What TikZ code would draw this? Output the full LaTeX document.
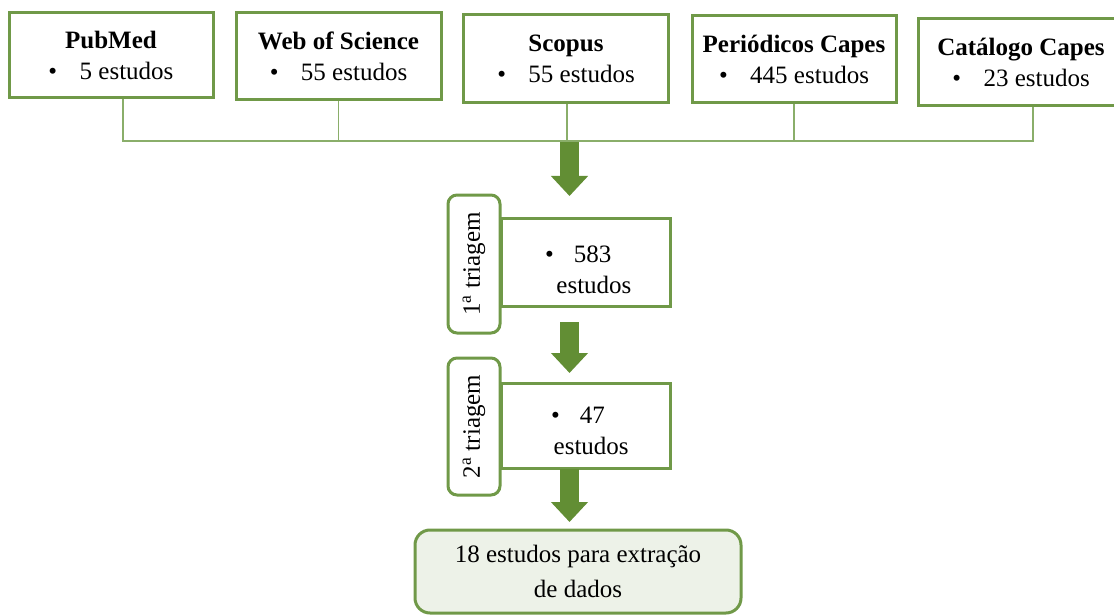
\documentclass[tikz,border=0pt]{standalone}
\usepackage{fontspec}
\setmainfont{Liberation Serif}
\usepackage{xcolor}
\usepackage{tikz}
\usetikzlibrary{arrows.meta,positioning}
\definecolor{boxgreen}{RGB}{112,153,72}
\definecolor{arrowgreen}{RGB}{98,142,52}
\definecolor{linegreen}{RGB}{138,174,106}
\definecolor{fillgreen}{RGB}{237,242,232}
\tikzset{base/.style={draw=boxgreen,line width=3pt,inner sep=2pt,align=center,font=\fontsize{25}{31}\selectfont},
  src/.style={base,minimum width=205pt,minimum height=87pt},
  res/.style={base,minimum width=169pt,minimum height=87pt},
  tri/.style={base,rounded corners=9pt,minimum width=52pt,minimum height=137pt},
  bus/.style={draw=linegreen,line width=1.6pt},
  bigarrow/.style={draw=arrowgreen,line width=19pt,-{Triangle[width=36pt,length=20pt]}}}

\begin{document}
\begin{tikzpicture}[x=1pt,y=-1pt]
    \useasboundingbox (0,0) rectangle (1114,615);
    \node[src,minimum width=204pt,minimum height=85pt] (pubmed) at (111,55.5) {\textbf{PubMed}\\\textbullet\hspace{0.9em}5 estudos};
    \node[src] (wos) at (338.5,56.5) {\textbf{Web of Science}\\\textbullet\hspace{0.9em}55 estudos};
    \node[src,minimum height=88pt] (scopus) at (566,59) {\textbf{Scopus}\\\textbullet\hspace{0.9em}55 estudos};
    \node[src,minimum width=204pt] (periodicos) at (794,59.5) {\textbf{Periódicos Capes}\\\textbullet\hspace{0.9em}445 estudos};
    \node[src,minimum width=206pt] (catalogo) at (1021,62.5) {\textbf{Catálogo Capes}\\\textbullet\hspace{0.9em}23 estudos};

    \node[tri,minimum height=138pt] (tri1) at (474,264) {};
    \node[rotate=90,font=\fontsize{25}{31}\selectfont] (tri1txt) at (tri1.center) {1\textsuperscript{a} triagem};
    \node[res,minimum height=88pt] (res1) at (585.5,262) {};
    \node[font=\fontsize{25}{31}\selectfont,align=left,anchor=west,inner sep=0pt] (res1txt) at (545,270) {\textbullet\hspace{0.8em}583\\\hspace*{0.45em}estudos};

    \node[tri] (tri2) at (474,426.5) {};
    \node[rotate=90,font=\fontsize{25}{31}\selectfont] (tri2txt) at (tri2.center) {2\textsuperscript{a} triagem};
    \node[res,minimum height=85pt] (res2) at (585.5,425.5) {};
    \node[font=\fontsize{25}{31}\selectfont,align=left,anchor=west,inner sep=0pt] (res2txt) at (551,431) {\textbullet\hspace{0.8em}47\\\hspace*{0.1em}estudos};

    \node[base,fill=fillgreen,rounded corners=15pt,minimum width=326pt,minimum height=83pt,font=\fontsize{25}{35}\selectfont] (final) at (578,571.5) {18 estudos para extração\\de dados};

    \coordinate (busL) at (123,141);
    \coordinate (busR) at (1033,141);
    \coordinate (a1s) at (569.5,142);
    \coordinate (a1e) at (569.5,196);
    \coordinate (a2s) at (569.5,322);
    \coordinate (a2e) at (569.5,373);
    \coordinate (a3s) at (569.5,469);
    \coordinate (a3e) at (569.5,522);

    \draw [bus] ([xshift=12pt]pubmed.south) -- (busL) -- (busR) -- ([xshift=12pt]catalogo.south);
    \draw [bus] (wos.south) -- (wos.south |- busL);
    \draw [bus] ([xshift=1pt]scopus.south) -- ([xshift=1pt]scopus.south |- busL);
    \draw [bus] (periodicos.south) -- (periodicos.south |- busL);

    \draw [bigarrow] (a1s) -- (a1e);
    \draw [bigarrow] (a2s) -- (a2e);
    \draw [bigarrow] (a3s) -- (a3e);
\end{tikzpicture}
\end{document}
